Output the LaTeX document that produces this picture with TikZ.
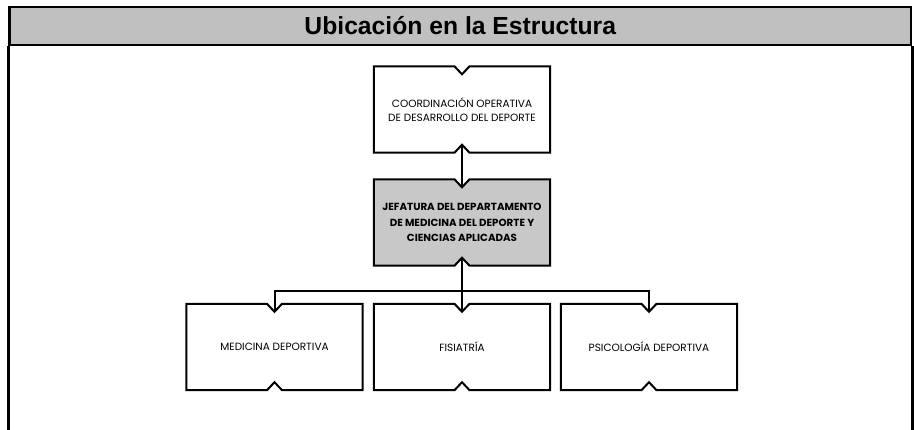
\documentclass[tikz,border=0pt]{standalone}
\usepackage{fontspec}
\setmainfont{Poppins}
\newfontfamily\fuentetitulo{Liberation Sans}
\usetikzlibrary{backgrounds}

\definecolor{grisencabezado}{HTML}{C0C0C0}
\definecolor{grisjefatura}{HTML}{C8C8C8}

\tikzset{
  linea/.style={line width=2pt, line join=miter},
  caja/.style={minimum width=176pt, minimum height=86pt, inner sep=0pt,
    align=center, font=\fontsize{10.5}{14}\selectfont},
  cajaclara/.style={caja},
  cajaoscura/.style={caja, font=\fontsize{10.3}{15.5}\selectfont\bfseries}
}

% Contorno de una caja con muescas arriba y abajo
\newcommand{\contorno}[2][white]{%
  \begin{pgfonlayer}{background}
    \draw[linea, fill=#1] (#2.north west) -- ([xshift=-7.5pt]#2.north)
      -- ([yshift=-8pt]#2.north) -- ([xshift=7.5pt]#2.north)
      -- (#2.north east) -- (#2.south east) -- ([xshift=7.5pt]#2.south)
      -- ([yshift=8pt]#2.south) -- ([xshift=-7.5pt]#2.south)
      -- (#2.south west) -- cycle;
  \end{pgfonlayer}}

\begin{document}
\begin{tikzpicture}[x=1pt, y=-1pt]
    \useasboundingbox (0, 0) rectangle (914, 429);

    % Encabezado y marco
    \node[draw, line width=2.5pt, fill=grisencabezado, minimum width=901.5pt,
      minimum height=38pt, inner sep=0pt,
      font=\fuentetitulo\fontsize{24.7}{24.7}\selectfont\bfseries]
      (titulo) at (460.25, 26) {Ubicación en la Estructura};
    \draw[line width=2.5pt] (titulo.south west) -- ++(0, 385);
    \draw[line width=2.5pt] (titulo.south east) -- ++(0, 385);

    % Cajas del organigrama
    \node[cajaclara] (coordinacion) at (462, 109.5)
      {COORDINACIÓN OPERATIVA\\DE DESARROLLO DEL DEPORTE};
    \node[cajaoscura] (jefatura) at (462, 222.5)
      {JEFATURA DEL DEPARTAMENTO\\DE MEDICINA DEL DEPORTE Y\\CIENCIAS APLICADAS};
    \node[cajaclara] (medicina) at (274.5, 347) {MEDICINA DEPORTIVA};
    \node[cajaclara] (fisiatria) at (462, 347) {FISIATRÍA};
    \node[cajaclara] (psicologia) at (649, 347) {PSICOLOGÍA DEPORTIVA};

    \contorno{coordinacion}
    \contorno[grisjefatura]{jefatura}
    \contorno{medicina}
    \contorno{fisiatria}
    \contorno{psicologia}

    % Conectores
    \coordinate (barra) at (462, 291);
    \draw[linea] ([yshift=8pt]coordinacion.south) -- ([yshift=-8pt]jefatura.north);
    \draw[linea] ([yshift=8pt]jefatura.south) -- ([yshift=-8pt]fisiatria.north);
    \draw[linea] ([yshift=-8pt]medicina.north) |- (barra) -| ([yshift=-8pt]psicologia.north);
\end{tikzpicture}
\end{document}
